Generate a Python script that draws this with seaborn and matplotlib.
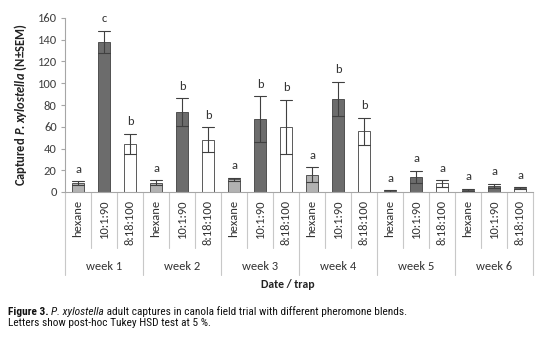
import matplotlib
matplotlib.use("Agg")
import matplotlib.pyplot as plt
import matplotlib.transforms as mtransforms
from matplotlib import font_manager
import numpy as np
import pandas as pd
import seaborn as sns

# ---- data -------------------------------------------------------------
weeks = ["week 1", "week 2", "week 3", "week 4", "week 5", "week 6"]
traps = ["hexane", "10:1:90", "8:18:100"]

mean_hexane = [8, 8.3, 11.5, 16, 1, 2.2]
mean_blend_a = [138, 73.6, 67, 85.5, 14, 5.6]
mean_blend_b = [44, 48, 60, 56, 8, 3.7]

sem_hexane = [2, 2.3, 1.5, 7, 0.6, 1]
sem_blend_a = [10.5, 12.5, 21, 16, 5.5, 1.8]
sem_blend_b = [9.5, 11.5, 25, 12.5, 3, 0.8]

letters_hexane = ["a", "a", "a", "a", "a", "a"]
letters_blend_a = ["c", "b", "b", "b", "a", "a"]
letters_blend_b = ["b", "b", "b", "b", "a", "a"]

y_ticks = [0, 20, 40, 60, 80, 100, 120, 140, 160]

means = [mean_hexane, mean_blend_a, mean_blend_b]
sems = [sem_hexane, sem_blend_a, sem_blend_b]
letters = [letters_hexane, letters_blend_a, letters_blend_b]

# two rows per bar (mean - SEM, mean + SEM): their mean is the bar height
# and their range is the error bar
rows = []
for t, trap in enumerate(traps):
    for w, week in enumerate(weeks):
        m, s = means[t][w], sems[t][w]
        rows.append({"week": week, "trap": trap, "n": m - s})
        rows.append({"week": week, "trap": trap, "n": m + s})
df = pd.DataFrame(rows)


def first_installed(candidates):
    have = {f.name for f in font_manager.fontManager.ttflist}
    for name in candidates:
        if name in have:
            return name
    return "DejaVu Sans"


chart_font = first_installed(["Carlito", "Lato", "Liberation Sans"])
caption_font = first_installed(["Roboto Condensed", "Archivo Narrow",
                                "PT Sans Narrow", "Liberation Sans Narrow",
                                "Liberation Sans"])

# ---- styling ----------------------------------------------------------
sns.set_theme(style="white")
plt.rcParams["font.family"] = [chart_font, "DejaVu Sans"]
plt.rcParams["mathtext.fontset"] = "custom"
plt.rcParams["mathtext.rm"] = chart_font
plt.rcParams["mathtext.bf"] = f"{chart_font}:bold"
plt.rcParams["mathtext.it"] = f"{chart_font}:italic"
plt.rcParams["mathtext.bfit"] = f"{chart_font}:bold:italic"

axis_grey = "#a6a6a6"
edge = "#404040"
text_col = "#333333"
palette = {"hexane": "#b2b2b2", "10:1:90": "#6c6c6c", "8:18:100": "#ffffff"}

fig = plt.figure(figsize=(5.45, 3.44), dpi=100)
W, H = 545, 344
ax_left, ax_right, ax_top, ax_bottom = 65, 533, 18, 192
ax = fig.add_axes([ax_left / W, 1 - ax_bottom / H,
                   (ax_right - ax_left) / W, (ax_bottom - ax_top) / H])

sns.barplot(data=df, x="week", y="n", hue="trap", order=weeks,
            hue_order=traps, palette=palette, width=1.0, gap=0.54,
            estimator="mean", errorbar=lambda v: (v.min(), v.max()),
            capsize=0.45, err_kws={"color": edge, "linewidth": 0.8},
            edgecolor=edge, linewidth=0.6, legend=False, ax=ax)

ax.set_xlim(-0.5, len(weeks) - 0.5)
ax.set_ylim(0, 160)
ax.set_yticks(y_ticks)
ax.set_yticklabels([str(v) for v in y_ticks], fontsize=9, color="#404040")
ax.tick_params(axis="y", length=3, width=0.8, color=axis_grey, pad=3,
               left=True, direction="out")
ax.tick_params(axis="x", bottom=False, labelbottom=False)
for side in ["top", "right"]:
    ax.spines[side].set_visible(False)
for side in ["left", "bottom"]:
    ax.spines[side].set_color(axis_grey)
    ax.spines[side].set_linewidth(0.8)

ax.set_xlabel("")
ax.set_ylabel(r"$\mathbf{Captured}\ \mathbfit{P.xylostella}\ \mathbf{(N±SEM)}$",
              fontsize=9, labelpad=6, color="#222222")

# ---- significance letters --------------------------------------------
slot = 1.0 / len(traps)
for t in range(len(traps)):
    for w in range(len(weeks)):
        x = w + (t - 1) * slot
        top = means[t][w] + sems[t][w]
        ax.text(x, top + 11, letters[t][w], ha="center", va="center",
                fontsize=9, color=text_col)

# ---- two-level category axis ------------------------------------------
trans = mtransforms.blended_transform_factory(ax.transData, ax.transAxes)
axis_h = ax_bottom - ax_top
inner_depth = -(248 - ax_bottom) / axis_h
outer_depth = -(275 - ax_bottom) / axis_h
label_top = -(200 - ax_bottom) / axis_h
week_y = -(266 - ax_bottom) / axis_h

for w in range(len(weeks)):
    for t in range(len(traps)):
        x = w + (t - 1) * slot
        ax.text(x, label_top, traps[t], transform=trans, rotation=90,
                ha="center", va="top", fontsize=9, color=text_col)
        boundary = w - 0.5 + t * slot
        depth = outer_depth if t == 0 else inner_depth
        ax.plot([boundary, boundary], [0, depth], transform=trans,
                color="#c8c8c8", lw=0.8, clip_on=False)
    ax.text(w, week_y, weeks[w], transform=trans, ha="center", va="center",
            fontsize=9, color=text_col)
ax.plot([len(weeks) - 0.5] * 2, [0, outer_depth], transform=trans,
        color="#c8c8c8", lw=0.8, clip_on=False)

fig.text(288 / W, 1 - 285 / H, "Date / trap", ha="center", va="center",
         fontsize=8.5, fontweight="bold", color="#222222")

# ---- caption ----------------------------------------------------------
cap = dict(fontsize=8.2, family=[caption_font, "DejaVu Sans"],
           color="#111111")
t1 = fig.text(8 / W, 1 - 312 / H, "Figure 3. ", fontweight="bold",
              va="center", **cap)
t2 = ax.annotate("P. xylostella", xy=(1, 0), xycoords=t1, style="italic",
                 va="bottom", ha="left", annotation_clip=False, **cap)
t3 = ax.annotate(" adult captures in canola field trial with different pheromone blends.",
                 xy=(1, 0), xycoords=t2, va="bottom", ha="left",
                 annotation_clip=False, **cap)
fig.text(8 / W, 1 - 323.5 / H, "Letters show post-hoc Tukey HSD test at 5 %.",
         va="center", **cap)

fig.savefig("out.png", dpi=100)
